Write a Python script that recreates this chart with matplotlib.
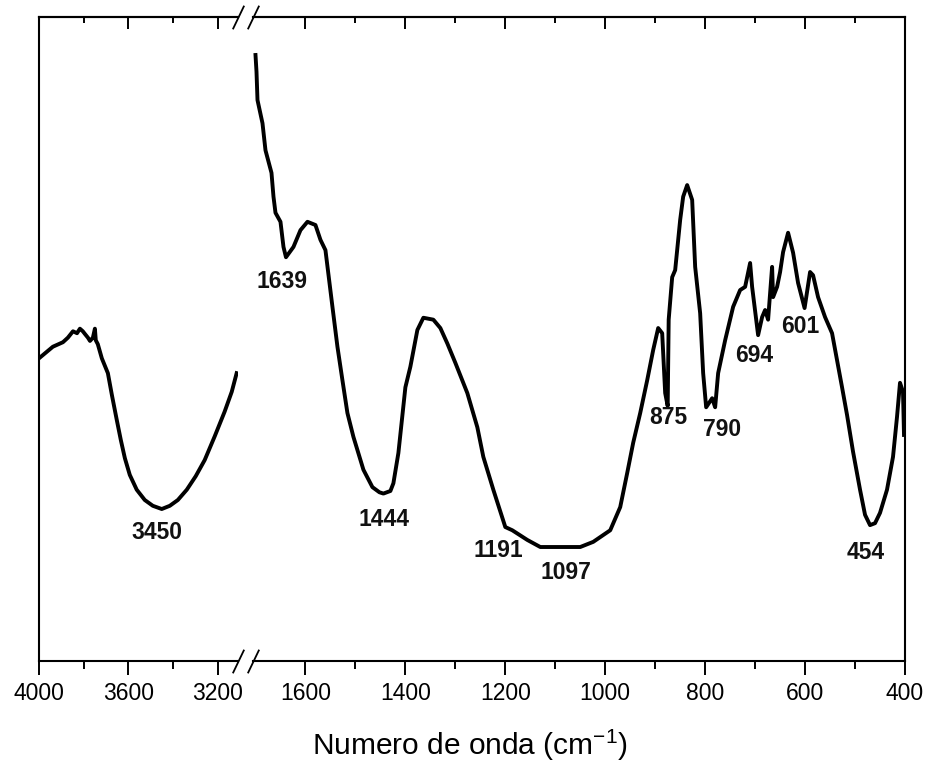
import numpy as np
import matplotlib
matplotlib.use("Agg")
import matplotlib.pyplot as plt
from matplotlib.ticker import FixedLocator

plt.rcParams["font.family"] = ["Liberation Sans", "DejaVu Sans"]
plt.rcParams["mathtext.fontset"] = "custom"
plt.rcParams["mathtext.rm"] = "Liberation Sans"

# FTIR spectrum, O-H stretching region (cm-1, %T)
wn_high = [4000, 3938, 3893, 3871, 3848, 3830, 3817, 3804, 3795, 3781, 3772, 3759,
           3750, 3746, 3737, 3719, 3692, 3674, 3652, 3634, 3616, 3594, 3563, 3527,
           3491, 3451, 3415, 3379, 3339, 3299, 3259, 3214, 3170, 3138, 3116]
t_high = [47.0, 48.8, 49.5, 50.2, 51.2, 50.9, 51.6, 51.2, 50.8, 50.2, 49.7, 50.2,
          51.6, 49.8, 49.2, 47.0, 44.7, 41.3, 37.4, 34.3, 31.5, 28.9, 26.6, 25.0,
          24.1, 23.6, 24.1, 25.0, 26.6, 28.7, 31.2, 34.9, 38.7, 41.8, 44.7]

# fingerprint region
wn_low = [1700, 1698, 1696, 1686, 1680, 1668, 1664, 1660, 1650, 1644, 1639, 1624,
          1610, 1596, 1580, 1570, 1560, 1546, 1536, 1526, 1516, 1504, 1484,
          1466, 1452, 1444, 1430, 1424, 1414, 1400, 1390, 1376, 1364, 1344, 1330,
          1316, 1300, 1276, 1256, 1244, 1224, 1200, 1186, 1156, 1130, 1050, 1024,
          990, 970, 956, 944, 930, 916, 904, 894, 886, 880, 875, 873, 866, 860,
          850, 844, 836, 826, 820, 810, 804, 798, 786, 780, 774, 760, 744, 730,
          720, 710, 706, 694, 686, 680, 674, 666, 664, 656, 650, 644, 634, 624,
          614, 601, 590, 584, 574, 560, 546, 536, 526, 516, 504, 490, 480, 470,
          460, 450, 436, 424, 416, 410, 404, 402]
t_low = [94.1, 91.5, 87.1, 83.5, 79.3, 75.8, 72.1, 69.6, 68.2, 64.3, 62.7, 64.3,
         66.9, 68.2, 67.7, 65.4, 63.8, 55.0, 48.8, 43.6, 38.5, 34.8, 29.7,
         27.0, 26.2, 26.0, 26.4, 27.6, 32.3, 42.5, 45.7, 51.4, 53.3, 53.0, 51.7,
         49.3, 46.3, 41.6, 36.3, 31.7, 26.6, 20.8, 20.3, 18.8, 17.7, 17.7, 18.5,
         20.3, 23.9, 29.2, 33.9, 38.5, 43.6, 48.3, 51.7, 50.9, 41.6, 39.6, 53.0,
         59.6, 60.7, 68.5, 72.1, 73.9, 71.6, 61.2, 54.0, 44.7, 39.4, 40.8, 39.4,
         44.7, 49.8, 55.0, 57.6, 58.1, 61.8, 58.1, 50.6, 53.4, 54.5, 53.0, 61.2,
         56.5, 58.1, 60.4, 63.5, 66.5, 63.4, 58.7, 54.8, 60.4, 59.9, 56.5, 53.4,
         50.9, 46.7, 42.5, 38.2, 32.5, 26.6, 22.7, 21.1, 21.4, 23.0, 26.6, 31.7,
         37.9, 43.2, 41.8, 35.1]

peaks_high = [3450]
peaks_low = [1639, 1444, 1191, 1097, 875, 790, 694, 601, 454]

# label offsets from the band position, in points
label_offset = {3450: (-3.7, -17.3), 1639: (-3.2, -17.3), 1444: (0.7, -19.0),
                1191: (-8.3, -15.1), 1097: (6.8, -18.7), 875: (0.4, -8.6),
                790: (8.6, -20.5), 694: (-2.9, -14.4), 601: (-3.2, -13.0),
                454: (-8.6, -25.2)}

fig = plt.figure(figsize=(9.26, 7.63), dpi=100)
W, H = 926, 763
y0, y1 = 661, 17
ax1 = fig.add_axes([39 / W, (H - y0) / H, (238 - 39) / W, (y0 - y1) / H])
ax2 = fig.add_axes([253 / W, (H - y0) / H, (905 - 253) / W, (y0 - y1) / H])

ax1.plot(wn_high, t_high, color="black", lw=2.8)
ax2.plot(wn_low, t_low, color="black", lw=2.8)
ax1.set_xlim(4000, 3110)
ax2.set_xlim(1705, 400)

major1, minor1 = [4000, 3600, 3200], [3800, 3400]
major2, minor2 = list(range(1600, 399, -200)), list(range(1500, 499, -200))

for ax, majors, minors in [(ax1, major1, minor1), (ax2, major2, minor2)]:
    ax.set_ylim(0, 100)
    ax.set_yticks([])
    ax.set_xticks(majors)
    ax.xaxis.set_minor_locator(FixedLocator(minors))
    ax.tick_params(axis="x", which="major", direction="out", length=10, width=1.4,
                   labelsize=16.5, pad=5)
    ax.tick_params(axis="x", which="minor", direction="out", length=6, width=1.4)
    for s in ax.spines.values():
        s.set_linewidth(1.5)
    top = ax.secondary_xaxis("top")
    top.set_xticks(majors)
    top.xaxis.set_minor_locator(FixedLocator(minors))
    top.tick_params(axis="x", which="major", direction="in", length=8.6, width=1.4,
                    labeltop=False)
    top.tick_params(axis="x", which="minor", direction="in", length=4.3, width=1.4)
    top.spines["top"].set_linewidth(1.5)

ax1.spines["right"].set_visible(False)
ax2.spines["left"].set_visible(False)

# break marks
mk = [(-0.48, -1), (0.48, 1)]
for ax, xpos in [(ax1, 1), (ax2, 0)]:
    ax.plot([xpos, xpos], [0, 1], transform=ax.transAxes, marker=mk,
            markersize=17, linestyle="none", color="black", mec="black",
            mew=1.3, clip_on=False)

# band labels
for ax, wn, t, peaks in [(ax1, wn_high, t_high, peaks_high),
                         (ax2, wn_low, t_low, peaks_low)]:
    x = np.array(wn[::-1])
    y = np.array(t[::-1])
    for p in peaks:
        ax.annotate(str(p), xy=(p, np.interp(p, x, y)), xytext=label_offset[p],
                    textcoords="offset points", ha="center", va="center",
                    fontsize=16.5, fontweight="bold", color="#111111")

fig.text(470 / W, (H - 745) / H, r"Numero de onda (cm$^{\mathregular{-1}}$)",
         ha="center", va="center", fontsize=21.5)

fig.savefig("out.png", dpi=100)
